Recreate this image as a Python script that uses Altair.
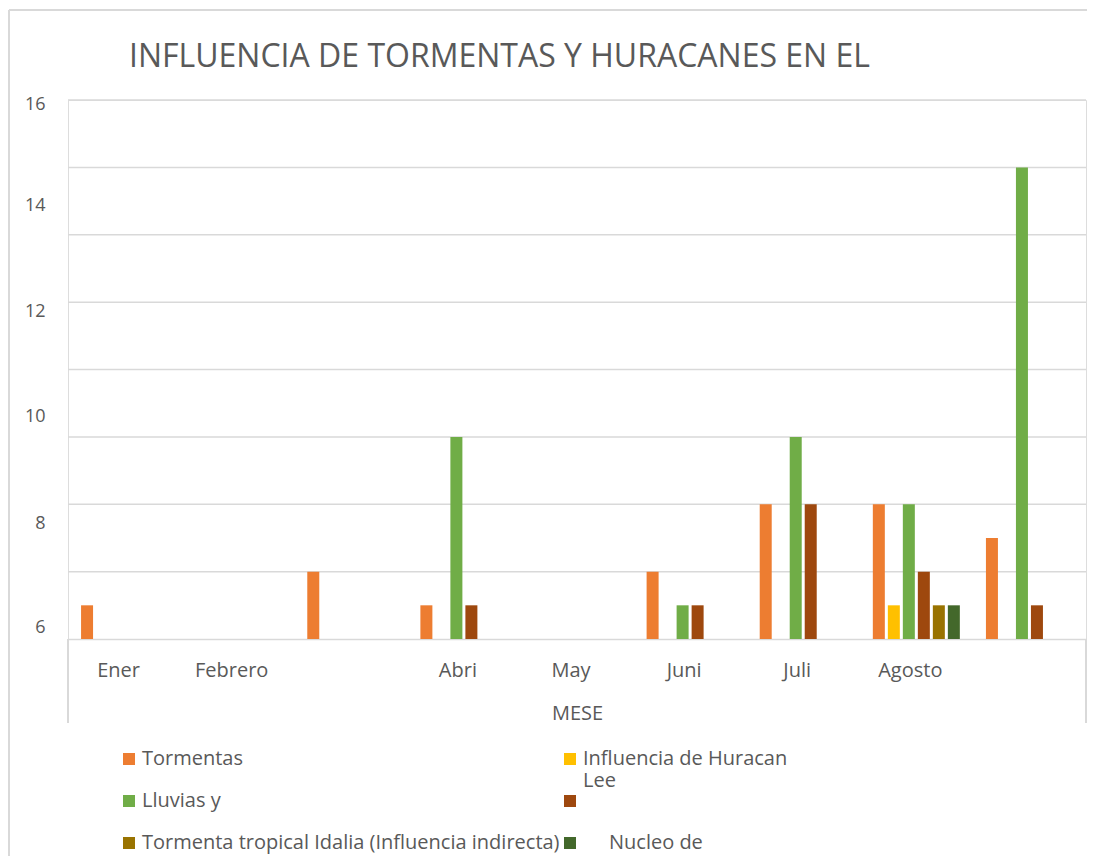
import altair as alt
import pandas as pd

# ---------------- data ----------------
months = ["Ener", "Febrero", "Marz", "Abri", "May", "Juni", "Juli", "Agosto", "Septiembre"]
month_labels = ["Ener", "Febrero", "", "Abri", "May", "Juni", "Juli", "Agosto", ""]
series = ["Tormentas", "Influencia de Huracan Lee", "Lluvias y", "Serie 4",
          "Tormenta tropical Idalia (Influencia indirecta)", "Nucleo de"]
colors = ["#ED7D31", "#FFC000", "#70AD47", "#9E480E", "#997300", "#43682B"]

tormentas = [1, 0, 2, 1, 0, 2, 4, 4, 3]
huracan   = [0, 0, 0, 0, 0, 0, 0, 1, 0]
lluvias   = [0, 0, 0, 6, 0, 1, 6, 4, 14]
serie4    = [0, 0, 0, 1, 0, 1, 4, 2, 1]
idalia    = [0, 0, 0, 0, 0, 0, 0, 1, 0]
nucleo    = [0, 0, 0, 0, 0, 0, 0, 1, 0]

grid_values = [2, 4, 6, 8, 10, 12, 14, 16]
# the reference prints its y labels at these (shifted) positions
ytick_pos = [15.88, 12.88, 9.73, 6.59, 3.44, 0.33]
ytick_text = ["16", "14", "12", "10", "8", "6"]

title_text = "INFLUENCIA DE TORMENTAS Y HURACANES EN EL"
x_title = "MESE"

# ---------------- tables ----------------
rows = []
for s, vals in zip(series, [tormentas, huracan, lluvias, serie4, idalia, nucleo]):
    for m, v in zip(months, vals):
        if v > 0:
            rows.append({"mes": m, "serie": s, "valor": v})
df = pd.DataFrame(rows)
grid_df = pd.DataFrame({"g": grid_values})

FONT = "Open Sans"
GREY = "#595959"
LINE = "#D9D9D9"

W, H = 1018, 539

xmap = "{" + ",".join(f"'{m}':'{l}'" for m, l in zip(months, month_labels)) + "}"
ymap = "{" + ",".join(f"'{p}':'{t}'" for p, t in zip(ytick_pos, ytick_text)) + "}"
NB = "\u00a0"
# every legend label has two lines so that all legend cells share one height
legend_expr = (
    "datum.value == 'Influencia de Huracan Lee' ? ['Influencia de Huracan', 'Lee'] : "
    "datum.value == 'Serie 4' ? ['', ''] : "
    f"datum.value == 'Nucleo de' ? ['\u200b{NB * 5}Nucleo de', ''] : [datum.label, '']"
)

x_enc = alt.X(
    "mes:N",
    sort=months,
    scale=alt.Scale(domain=months, paddingInner=0, paddingOuter=0),
    axis=alt.Axis(
        title=x_title,
        labelExpr=f"{xmap}[datum.value]",
        labelAngle=0,
        labelOffset=-6,
        labelFontSize=20,
        labelFont=FONT,
        labelColor=GREY,
        labelPadding=21,
        titleFont=FONT,
        titleFontSize=20,
        titleFontWeight="normal",
        titleColor=GREY,
        titlePadding=23,
        ticks=False,
        domainColor=LINE,
        domainWidth=1.5,
        grid=False,
    ),
)

y_scale = alt.Scale(domain=[0, 16], nice=False)

bars = alt.Chart(df).mark_bar(size=12).encode(
    x=x_enc,
    xOffset=alt.XOffset("serie:N", sort=series,
                        scale=alt.Scale(domain=series, paddingInner=0.2, paddingOuter=0.87)),
    y=alt.Y(
        "valor:Q",
        scale=y_scale,
        axis=alt.Axis(
            title=None,
            values=ytick_pos,
            labelExpr=f"{ymap}['' + datum.value]",
            grid=False,
            ticks=False,
            tickSize=0,
            domain=False,
            labelFont=FONT,
            labelFontSize=18,
            labelColor=GREY,
            labelPadding=23,
        ),
    ),
    color=alt.Color(
        "serie:N",
        sort=series,
        scale=alt.Scale(domain=series, range=colors),
        legend=alt.Legend(
            title=None,
            orient="none",
            direction="horizontal",
            legendX=51,
            legendY=649,
            columns=2,
            columnPadding=-26,
            rowPadding=0,
            symbolType="square",
            symbolSize=144,
            symbolStrokeWidth=0,
            labelFont=FONT,
            labelFontSize=20,
            labelColor=GREY,
            labelOffset=3,
            labelLimit=600,
            padding=0,
            labelExpr=legend_expr,
        ),
    ),
)

grid = alt.Chart(grid_df).mark_rule(color=LINE, strokeWidth=1.5).encode(
    y=alt.Y("g:Q", scale=y_scale)
)

# decorative frame lines (x-axis box and outer chart border)
box_left = alt.Chart(grid_df).mark_rule(color=LINE, strokeWidth=1.5).encode(
    x=alt.value(0), y=alt.value(H), y2=alt.value(H + 84))
box_right = alt.Chart(grid_df).mark_rule(color=LINE, strokeWidth=1.5).encode(
    x=alt.value(W), y=alt.value(H), y2=alt.value(H + 84))
frame_left = alt.Chart(grid_df).mark_rule(color=LINE, strokeWidth=1.5).encode(
    x=alt.value(-59), y=alt.value(-90), y2=alt.value(800))
frame_top = alt.Chart(grid_df).mark_rule(color=LINE, strokeWidth=1.5).encode(
    x=alt.value(-59), x2=alt.value(1040), y=alt.value(-90))

chart = alt.layer(grid, box_left, box_right, frame_left, frame_top, bars).properties(
    width=W,
    height=H,
    title=alt.TitleParams(
        title_text,
        anchor="start",
        frame="group",
        dx=61,
        dy=87,
        offset=22,
        font=FONT,
        fontSize=32,
        fontWeight="normal",
        color=GREY,
    ),
    autosize=alt.AutoSizeParams(type="none"),
    padding={"left": 60, "top": 92, "right": 1, "bottom": 217},
).configure_view(stroke=None).configure(
    background="white",
    style={"guide-label": {"lineHeight": 22}},
)

chart.save("out.html", embed_options={"renderer": "svg", "actions": False})
